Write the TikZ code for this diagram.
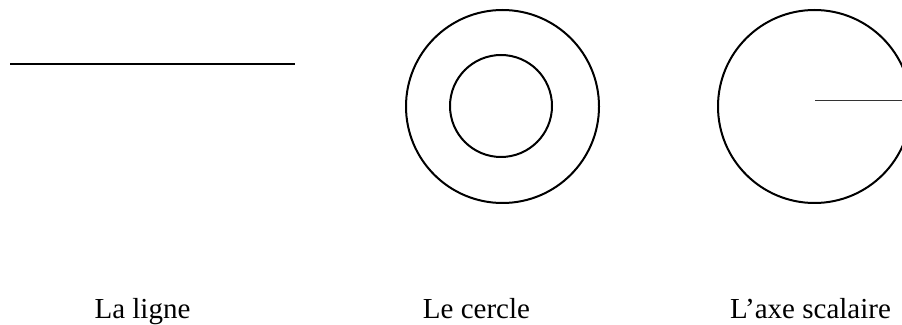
\documentclass[tikz,border=0pt]{standalone}
\usepackage{fontspec}
\setmainfont{Liberation Serif}
\begin{document}
\begin{tikzpicture}[x=1pt,y=1pt,
  ringstyle/.style={draw=black,line width=2pt,circle,inner sep=0pt},
  captext/.style={anchor=base,inner sep=0pt,font=\fontsize{29}{34}\selectfont}]
\useasboundingbox (0,0) rectangle (902,324);
\clip (0,0) rectangle (902,324);
% La ligne
\coordinate (l1) at (10,260);
\coordinate (l2) at (295,260);
\draw[black,line width=2.5pt] (l1) -- (l2);
% Le cercle
\node[ringstyle,minimum size=193pt] (outer) at (502.5,217.5) {};
\node[ringstyle,minimum size=102pt] (inner) at (501,218) {};
% L'axe scalaire
\node[ringstyle,minimum size=193pt] (axc) at (814.5,217.5) {};
\coordinate (a1) at (815,223.3);
\coordinate (a2) at (902,223.3);
\draw[black!80,line width=1.3pt] (a1) -- (a2);
% captions
\node[captext] (t1) at (142.5,6) {La ligne};
\node[captext] (t2) at (476.5,6) {Le cercle};
\node[captext] (t3) at (810.5,6) {L’axe scalaire};
\end{tikzpicture}
\end{document}
